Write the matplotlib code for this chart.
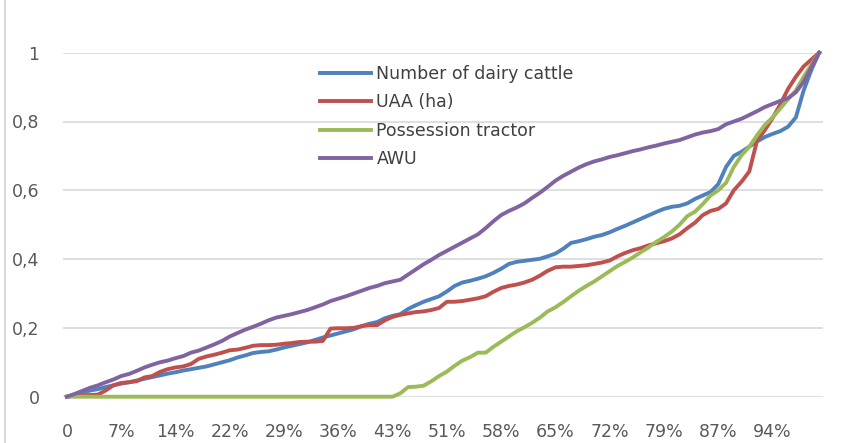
import numpy as np
import matplotlib
matplotlib.use("Agg")
import matplotlib.pyplot as plt
from matplotlib.lines import Line2D

# 見た目の調整
plt.rcParams['font.family'] = ['DejaVu Sans']
plt.rcParams['xtick.labelsize'] = 12.5
plt.rcParams['ytick.labelsize'] = 12.5

# データ (cumulative share, 98 farms/points)
dairy_cattle = [
    0.000, 0.006, 0.012, 0.018, 0.022, 0.028, 0.033, 0.038, 0.042, 0.047,
    0.052, 0.057, 0.062, 0.067, 0.071, 0.076, 0.080, 0.084, 0.088, 0.094,
    0.100, 0.106, 0.114, 0.120, 0.127, 0.130, 0.132, 0.137, 0.143, 0.148,
    0.153, 0.158, 0.165, 0.172, 0.178, 0.184, 0.190, 0.196, 0.205, 0.212,
    0.217, 0.228, 0.235, 0.240, 0.255, 0.266, 0.276, 0.284, 0.292, 0.306,
    0.322, 0.332, 0.337, 0.343, 0.350, 0.360, 0.372, 0.386, 0.392, 0.395,
    0.398, 0.401, 0.408, 0.416, 0.430, 0.447, 0.452, 0.458, 0.465, 0.470,
    0.478, 0.488, 0.497, 0.507, 0.517, 0.527, 0.537, 0.546, 0.552, 0.555,
    0.562, 0.575, 0.585, 0.595, 0.618, 0.668, 0.700, 0.712, 0.727, 0.742,
    0.755, 0.764, 0.772, 0.785, 0.812, 0.890, 0.950, 1.000]

uaa_ha = [
    0.000, 0.003, 0.004, 0.005, 0.006, 0.018, 0.033, 0.040, 0.042, 0.045,
    0.056, 0.060, 0.072, 0.080, 0.085, 0.088, 0.095, 0.110, 0.117, 0.122,
    0.128, 0.135, 0.137, 0.142, 0.148, 0.150, 0.150, 0.151, 0.154, 0.156,
    0.159, 0.160, 0.160, 0.162, 0.198, 0.199, 0.199, 0.200, 0.205, 0.208,
    0.208, 0.222, 0.232, 0.238, 0.242, 0.246, 0.248, 0.252, 0.258, 0.276,
    0.276, 0.278, 0.282, 0.286, 0.292, 0.305, 0.316, 0.322, 0.326, 0.332,
    0.340, 0.352, 0.366, 0.376, 0.378, 0.378, 0.380, 0.382, 0.386, 0.390,
    0.396, 0.408, 0.418, 0.426, 0.432, 0.440, 0.446, 0.452, 0.460, 0.472,
    0.490, 0.506, 0.528, 0.540, 0.546, 0.562, 0.600, 0.625, 0.655, 0.745,
    0.775, 0.810, 0.850, 0.895, 0.930, 0.960, 0.980, 1.000]

tractor = [
    0.000, 0.000, 0.000, 0.000, 0.000, 0.000, 0.000, 0.000, 0.000, 0.000,
    0.000, 0.000, 0.000, 0.000, 0.000, 0.000, 0.000, 0.000, 0.000, 0.000,
    0.000, 0.000, 0.000, 0.000, 0.000, 0.000, 0.000, 0.000, 0.000, 0.000,
    0.000, 0.000, 0.000, 0.000, 0.000, 0.000, 0.000, 0.000, 0.000, 0.000,
    0.000, 0.000, 0.000, 0.010, 0.028, 0.029, 0.032, 0.045, 0.060, 0.073,
    0.090, 0.105, 0.115, 0.128, 0.128, 0.145, 0.160, 0.175, 0.190, 0.202,
    0.215, 0.230, 0.248, 0.260, 0.275, 0.292, 0.308, 0.322, 0.335, 0.350,
    0.365, 0.380, 0.392, 0.405, 0.420, 0.434, 0.450, 0.464, 0.480, 0.500,
    0.525, 0.538, 0.560, 0.585, 0.600, 0.622, 0.668, 0.702, 0.727, 0.760,
    0.790, 0.812, 0.838, 0.865, 0.890, 0.930, 0.965, 1.000]

awu = [
    0.000, 0.008, 0.017, 0.026, 0.033, 0.042, 0.050, 0.060, 0.066, 0.075,
    0.085, 0.093, 0.100, 0.105, 0.112, 0.118, 0.128, 0.134, 0.143, 0.152,
    0.162, 0.175, 0.185, 0.195, 0.203, 0.212, 0.222, 0.230, 0.235, 0.240,
    0.246, 0.252, 0.260, 0.268, 0.278, 0.285, 0.292, 0.300, 0.308, 0.316,
    0.322, 0.330, 0.335, 0.340, 0.355, 0.370, 0.385, 0.398, 0.412, 0.424,
    0.436, 0.448, 0.460, 0.472, 0.490, 0.510, 0.528, 0.540, 0.550, 0.562,
    0.578, 0.593, 0.610, 0.628, 0.642, 0.654, 0.666, 0.676, 0.684, 0.690,
    0.697, 0.702, 0.708, 0.714, 0.719, 0.725, 0.730, 0.736, 0.741, 0.746,
    0.754, 0.762, 0.768, 0.772, 0.778, 0.792, 0.800, 0.808, 0.819, 0.830,
    0.842, 0.851, 0.860, 0.868, 0.885, 0.915, 0.958, 1.000]

x_labels = ["0", "7%", "14%", "22%", "29%", "36%", "43%",
            "51%", "58%", "65%", "72%", "79%", "87%", "94%"]
y_ticks = [0, 0.2, 0.4, 0.6, 0.8, 1]
y_labels = ["0", "0,2", "0,4", "0,6", "0,8", "1"]

series = [
    ("Number of dairy cattle", dairy_cattle, "#4F81BD"),
    ("UAA (ha)", uaa_ha, "#C0504D"),
    ("Possession tractor", tractor, "#9BBB59"),
    ("AWU", awu, "#8064A2"),
]

fig = plt.figure(figsize=(8.6, 4.43), dpi=100)
ax = fig.add_axes([63 / 860, 1 - 396.7 / 443, 760 / 860, 344 / 443])

x = np.arange(len(dairy_cattle))
for name, vals, col in series:
    ax.plot(x, vals, color=col, lw=2.8, label=name, clip_on=False,
            solid_joinstyle="round", zorder=3)

ax.set_xlim(-0.5, len(x) - 0.5)
ax.set_ylim(0, 1)
ax.set_xticks(x[::7])
ax.set_xticklabels(x_labels)
ax.set_yticks(y_ticks)
ax.set_yticklabels(y_labels)
ax.tick_params(length=0, colors="#595959")
ax.tick_params(axis="y", pad=17)
ax.tick_params(axis="x", pad=19)
ax.grid(axis="y", color="#D9D9D9", lw=1.2, zorder=0)
for s in ax.spines.values():
    s.set_visible(False)

# 凡例 (プロット内)
ax.legend(loc="upper left", bbox_to_anchor=(320 / 860, 1 - 65 / 443),
          bbox_transform=fig.transFigure, frameon=False, fontsize=12.5,
          handlelength=2.95, handletextpad=0.3, labelspacing=0.6,
          borderpad=0, borderaxespad=0, labelcolor="#404040")

# 左側の枠線
fig.add_artist(Line2D([5 / 860, 5 / 860], [0, 1], color="#D9D9D9", lw=1.5))

plt.savefig("out.png", dpi=100)
